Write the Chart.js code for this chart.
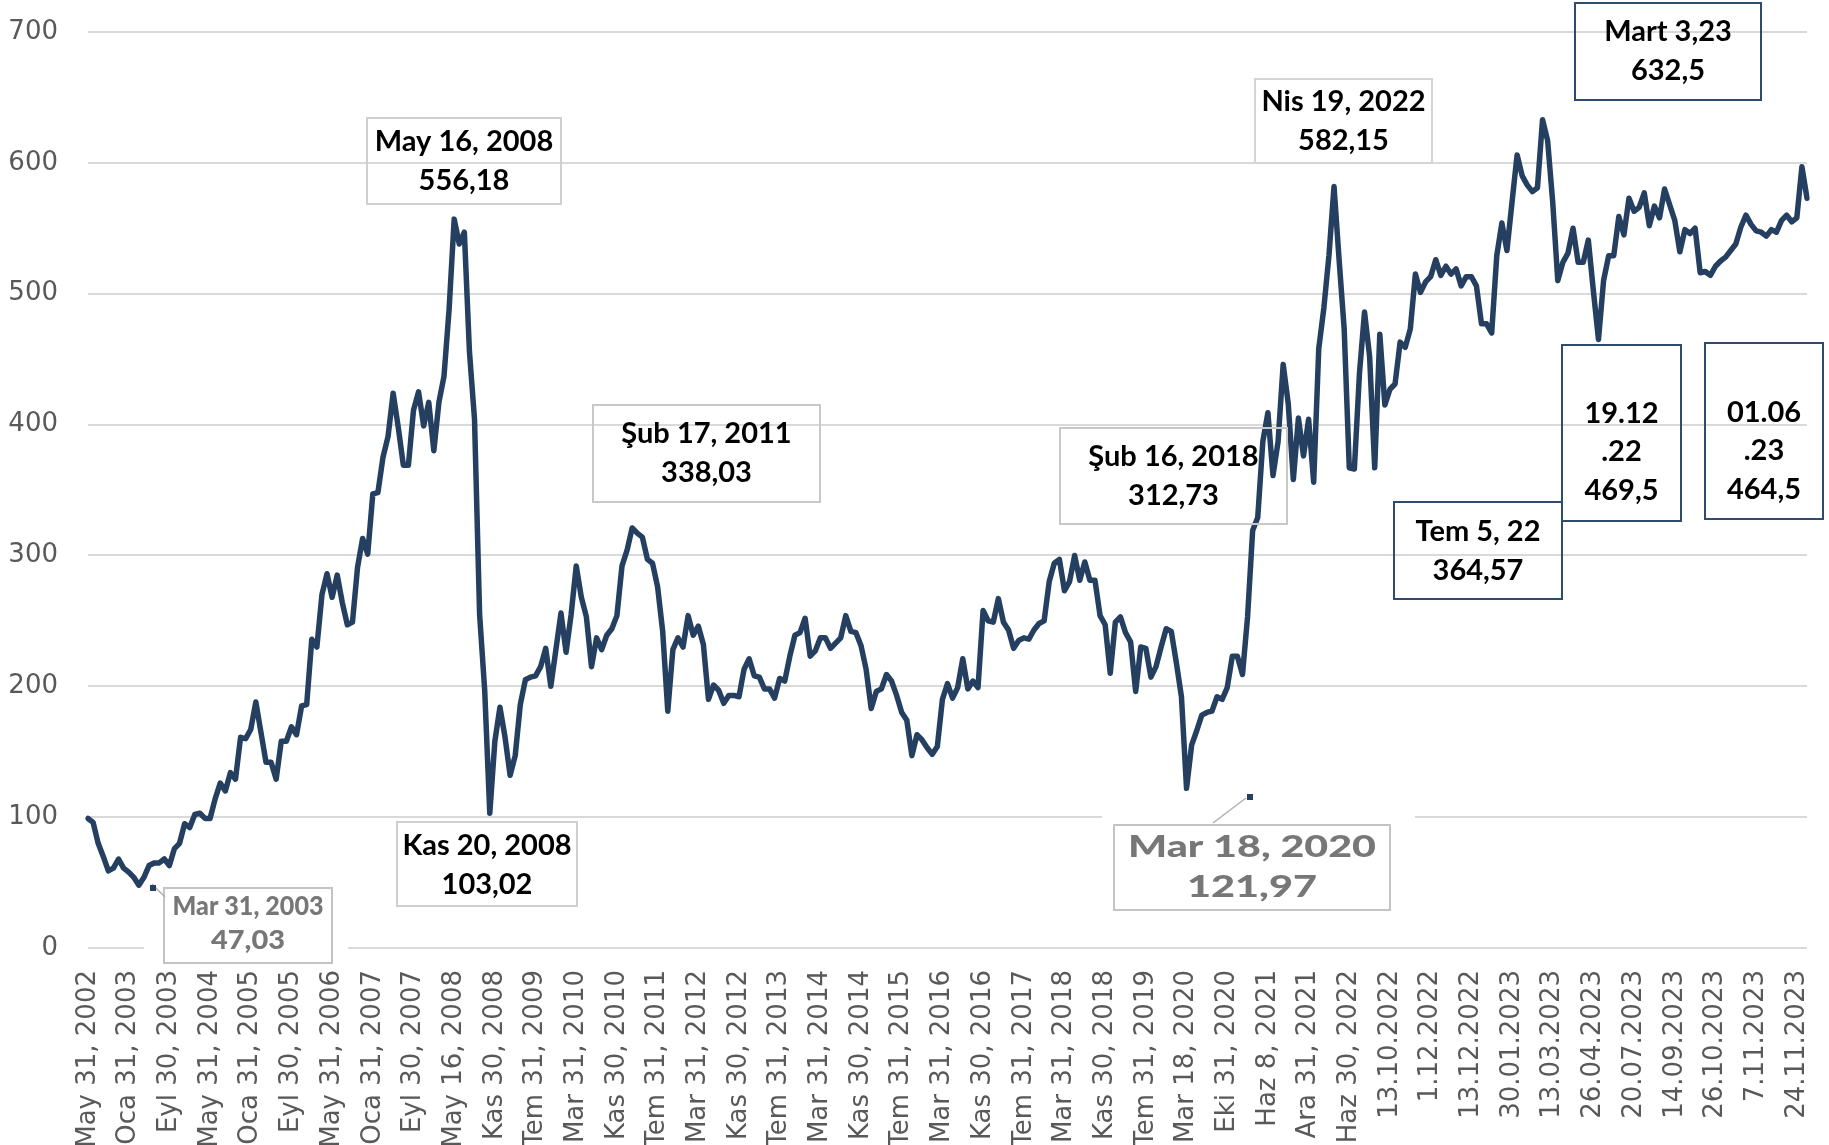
<!DOCTYPE html>
<html>
<head>
<meta charset="utf-8">
<script src="https://cdn.jsdelivr.net/npm/chart.js@4/dist/chart.umd.min.js"></script>
<style>
  html, body { margin: 0; padding: 0; background: #fff; }
  #kutu { width: 1829px; height: 1145px; }
</style>
</head>
<body>
<div id="kutu"><canvas id="grafik"></canvas></div>
<script>
// tick labels (one every 8 points)
const tickLabels = [
    "May 31, 2002", "Oca 31, 2003", "Eyl 30, 2003", "May 31, 2004", "Oca 31, 2005",
    "Eyl 30, 2005", "May 31, 2006", "Oca 31, 2007", "Eyl 30, 2007", "May 16, 2008",
    "Kas 30, 2008", "Tem 31, 2009", "Mar 31, 2010", "Kas 30, 2010", "Tem 31, 2011",
    "Mar 31, 2012", "Kas 30, 2012", "Tem 31, 2013", "Mar 31, 2014", "Kas 30, 2014",
    "Tem 31, 2015", "Mar 31, 2016", "Kas 30, 2016", "Tem 31, 2017", "Mar 31, 2018",
    "Kas 30, 2018", "Tem 31, 2019", "Mar 18, 2020", "Eki 31, 2020", "Haz 8, 2021",
    "Ara 31, 2021", "Haz 30, 2022", "13.10.2022", "1.12.2022", "13.12.2022",
    "30.01.2023", "13.03.2023", "26.04.2023", "20.07.2023", "14.09.2023",
    "26.10.2023", "7.11.2023", "24.11.2023",
];

// series values
const values2002_2007 = [
    99, 96, 80, 70, 59, 61, 68, 61, 58, 54, 48, 54, 63, 65, 65, 68, 63, 76, 80, 95,
    92, 102, 103, 99, 99, 114, 126, 120, 134, 129, 161, 160, 167, 188, 165, 142, 142, 129, 158, 158,
    169, 163, 185, 186, 236, 230, 270, 286, 268, 285, 264, 247, 249, 291, 313, 301, 347, 348,
];
const values2007_2011 = [
    375, 391, 424, 398, 369, 369, 411, 425, 399, 417, 380, 417, 437, 488, 557, 538, 547, 456, 404, 255,
    197, 103, 158, 184, 161, 132, 147, 186, 205, 207, 208, 215, 229, 200, 228, 256, 226, 255, 292, 268,
    253, 215, 237, 228, 239, 244, 254, 292, 304, 321, 317, 314, 297, 294, 276, 242, 181,
];
const values2011_2016 = [
    228, 237, 230, 254, 239, 246, 232, 190, 201, 197, 187, 193, 193, 192, 213, 221, 208, 207, 198, 198,
    191, 206, 204, 223, 239, 241, 252, 223, 227, 237, 237, 229, 233, 237, 254, 242, 241, 231, 213, 183,
    196, 198, 209, 204, 193, 180, 174, 147, 163, 159, 153, 148, 154, 190, 202, 191, 199,
];
const values2016_2020 = [
    221, 198, 204, 199, 258, 250, 249, 267, 249, 243, 229, 235, 237, 236, 243, 248, 250, 280, 294, 297,
    273, 280, 300, 281, 295, 281, 281, 254, 247, 210, 249, 253, 241, 234, 196, 230, 229, 207, 215, 230,
    244, 242, 218, 192, 122, 155, 166, 178, 180, 181, 192, 190, 199, 223, 223, 209,
];
const values2020_2023 = [
    253, 319, 329, 387, 409, 361, 387, 446, 416, 358, 405, 376, 404, 356, 458, 489, 529, 582, 526, 473,
    367, 366, 439, 486, 452, 367, 469, 415, 427, 431, 463, 459, 473, 515, 501, 509, 513, 526, 514, 521,
    515, 519, 506, 513, 513, 506, 477, 477, 470, 529, 554, 533, 570, 606, 590, 583, 578, 581,
];
const values2023 = [
    633, 617, 570, 510, 524, 531, 550, 524, 524, 541, 502, 465, 510, 529, 529, 559, 545, 573, 563, 566,
    577, 552, 567, 558, 580, 568, 556, 532, 549, 546, 550, 516, 517, 514, 521, 525, 528, 533, 538, 551,
    560, 553, 548, 547, 544, 549, 547, 556, 560, 555, 558, 597, 573,
];

const values = [].concat(values2002_2007, values2007_2011, values2011_2016,
    values2016_2020, values2020_2023, values2023);

const categories = values.map((v, i) => (i % 8 === 0 && tickLabels[i / 8]) ? tickLabels[i / 8] : "");

// annotation boxes (page pixels)
const notes = [
    { lines: ["May 16, 2008", "556,18"], box: [367, 118, 194, 86], ty: 161, edge: "#cfcfcf" },
    { lines: ["Kas 20, 2008", "103,02"], box: [397, 822, 180, 84], ty: 865, edge: "#cfcfcf" },
    { lines: ["Şub 17, 2011", "338,03"], box: [593, 405, 227, 97], ty: 453, edge: "#c8c8c8" },
    { lines: ["Şub 16, 2018", "312,73"], box: [1060, 428, 227, 96], ty: 476, edge: "#c8c8c8" },
    { lines: ["Nis 19, 2022", "582,15"], box: [1255, 79, 177, 84], ty: 121, edge: "#d4d4d4" },
    { lines: ["Mart 3,23", "632,5"], box: [1575, 3, 186, 97], ty: 51, edge: "#2f4b6e" },
    { lines: ["Tem 5, 22", "364,57"], box: [1394, 502, 168, 97], ty: 551, edge: "#2f4b6e" },
    { lines: ["19.12", ".22", "469,5"], box: [1562, 345, 119, 176], ty: 452, edge: "#2f4b6e" },
    { lines: ["01.06", ".23", "464,5"], box: [1705, 343, 118, 176], ty: 451, edge: "#2f4b6e" },
];

// pasted grey call-outs
const callouts = [
    { lines: ["Mar 31, 2003", "47,03"], widths: [151, 74], box: [164, 888, 168, 75], ty: 924,
      clear: [144, 930, 204, 40], size: 26, pointer: [[165, 897], [152, 884]], mark: [153, 888] },
    { lines: ["Mar 18, 2020", "121,97"], widths: [248, 130], box: [1114, 825, 276, 85], ty: 867,
      clear: [1102, 805, 313, 20], size: 31, pointer: [[1213, 823], [1246, 798]], mark: [1250, 797] },
];

function fitText(ctx, str, cx, cy, width) {
    if (!width) { ctx.fillText(str, cx, cy); return; }
    const m = ctx.measureText(str).width;
    ctx.save();
    ctx.translate(cx, cy);
    ctx.scale(width / m, 1);
    ctx.fillText(str, 0, 0);
    ctx.restore();
}

const notesPlugin = {
    id: "notes",
    afterDatasetsDraw(chart) {
        const ctx = chart.ctx;
        ctx.save();
        ctx.textAlign = "center";
        ctx.textBaseline = "middle";

        callouts.forEach(c => {
            ctx.fillStyle = "#ffffff";
            ctx.fillRect(...c.clear);
            ctx.fillRect(...c.box);
            ctx.strokeStyle = "#c4c4c4";
            ctx.lineWidth = 2;
            ctx.strokeRect(...c.box);
            ctx.beginPath();
            ctx.moveTo(...c.pointer[0]);
            ctx.lineTo(...c.pointer[1]);
            ctx.strokeStyle = "#b0b0b0";
            ctx.lineWidth = 1.5;
            ctx.stroke();
            ctx.fillStyle = "#243f60";
            ctx.fillRect(c.mark[0] - 3, c.mark[1] - 3, 6, 6);
            ctx.fillStyle = "#777777";
            ctx.font = "900 " + c.size + "px Lato";
            const gap = c.size * 1.3;
            const y0 = c.ty - gap * (c.lines.length - 1) / 2;
            c.lines.forEach((t, k) => fitText(ctx, t, c.box[0] + c.box[2] / 2, y0 + k * gap, c.widths[k]));
        });

        notes.forEach(n => {
            ctx.strokeStyle = n.edge;
            ctx.lineWidth = 2;
            ctx.strokeRect(...n.box);
            ctx.fillStyle = "#000000";
            ctx.font = "bold 29px Lato";
            const gap = 38.5;
            const y0 = n.ty - gap * (n.lines.length - 1) / 2;
            n.lines.forEach((t, k) => ctx.fillText(t, n.box[0] + n.box[2] / 2, y0 + k * gap));
        });
        ctx.restore();
    },
};

const dataGrafik = {
    labels: categories,
    datasets: [
        {
            data: values,
            borderColor: "#243f60",
            borderWidth: 5.5,
            pointRadius: 0,
            tension: 0,
            borderJoinStyle: "round",
            borderCapStyle: "round",
        },
    ],
};

const configGrafik = {
    type: "line",
    data: dataGrafik,
    options: {
        responsive: true,
        maintainAspectRatio: false,
        animation: false,
        layout: {
            padding: { top: 32, right: 22, left: 0, bottom: 0 },
        },
        plugins: {
            legend: { display: false },
            tooltip: { enabled: false },
        },
        scales: {
            x: {
                grid: { display: false },
                border: { display: false },
                ticks: {
                    autoSkip: false,
                    maxRotation: 90,
                    minRotation: 90,
                    padding: 14,
                    color: "#595959",
                    font: { family: "DejaVu Sans", size: 26 },
                },
                afterFit: scale => {
                    scale.height = 197;
                    scale.paddingLeft = 0;
                    scale.paddingRight = 0;
                    scale.paddingTop = 0;
                    scale.paddingBottom = 0;
                },
            },
            y: {
                min: 0,
                max: 700,
                border: { display: false },
                grid: { color: "#d9d9d9", lineWidth: 2, drawTicks: false },
                ticks: {
                    stepSize: 100,
                    padding: 30,
                    color: "#595959",
                    font: { family: "DejaVu Sans", size: 26 },
                },
                afterFit: scale => {
                    scale.width = 88;
                    scale.paddingLeft = 0;
                    scale.paddingRight = 0;
                    scale.paddingTop = 0;
                    scale.paddingBottom = 0;
                },
            },
        },
    },
    plugins: [notesPlugin],
};

const chart1 = new Chart(document.getElementById("grafik"), configGrafik);
</script>
</body>
</html>
